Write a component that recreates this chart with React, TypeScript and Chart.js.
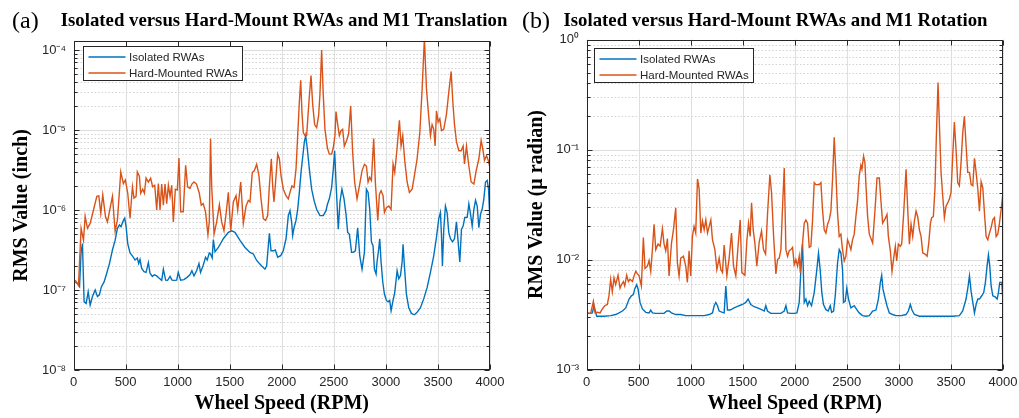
import React, { useEffect, useRef } from 'react';
import { Chart, registerables } from 'chart.js';

Chart.register(...registerables);

// ---------------- data ----------------
const seriesLabels = ['Isolated RWAs', 'Hard-Mounted RWAs'];
const titleA = 'Isolated versus Hard-Mount RWAs and M1 Translation';
const titleB = 'Isolated versus Hard-Mount RWAs and M1 Rotation';
const panelLetters = ['(a)', '(b)'];
const xAxisTitle = 'Wheel Speed (RPM)';
const yAxisTitleA = 'RMS Value (inch)';
const yAxisTitleB = 'RMS Value (\u03bc radian)';

const xTicks = [0, 500, 1000, 1500, 2000, 2500, 3000, 3500, 4000];
const yTicksA = [1e-8, 1e-7, 1e-6, 1e-5, 1e-4];
const yTicksB = [1e-3, 1e-2, 1e-1, 1];

// Panel (a) – Isolated RWAs
const isoA_rpm = [16, 38, 58, 73, 86, 102, 121, 141, 160, 182, 208, 230, 249, 268, 294, 319, 345, 374, 400, 422, 441, 457, 473, 492, 505, 521, 543, 569, 591, 613, 626, 639, 655, 677, 697, 719, 735, 757, 776, 799, 821, 847, 863, 885, 904, 927, 946, 968, 991, 1006, 1029, 1061, 1093, 1118, 1137, 1157, 1182, 1205, 1220, 1246, 1268, 1284, 1304, 1316, 1332, 1343, 1359, 1391, 1439, 1487, 1519, 1551, 1599, 1647, 1695, 1727, 1759, 1807, 1839, 1855, 1881, 1897, 1919, 1938, 1961, 1990, 2015, 2041, 2063, 2079, 2095, 2105, 2118, 2137, 2153, 2169, 2185, 2201, 2217, 2230, 2246, 2265, 2287, 2310, 2335, 2367, 2399, 2425, 2438, 2457, 2479, 2495, 2508, 2521, 2543, 2559, 2578, 2598, 2617, 2633, 2649, 2671, 2685, 2707, 2729, 2749, 2771, 2794, 2813, 2829, 2845, 2861, 2877, 2890, 2906, 2915, 2931, 2941, 2954, 2970, 2986, 3005, 3021, 3037, 3050, 3066, 3085, 3108, 3124, 3140, 3156, 3165, 3178, 3197, 3220, 3245, 3274, 3300, 3332, 3364, 3396, 3428, 3460, 3486, 3508, 3524, 3534, 3543, 3556, 3572, 3588, 3604, 3620, 3640, 3659, 3678, 3694, 3710, 3726, 3742, 3758, 3781, 3797, 3813, 3829, 3845, 3861, 3877, 3893, 3909, 3925, 3941, 3957, 3973, 3986, 4000];
const isoA_val = [1.26e-7, 1.2e-7, 1.1e-7, 3.0e-7, 3.8e-7, 7.1e-8, 6.8e-8, 9.5e-8, 6.5e-8, 8.3e-8, 1.0e-7, 8.3e-8, 8.7e-8, 1.1e-7, 1.26e-7, 1.62e-7, 2.14e-7, 3.16e-7, 4.2e-7, 5.9e-7, 6.5e-7, 6.2e-7, 7.1e-7, 7.9e-7, 6.2e-7, 3.8e-7, 2.9e-7, 2.63e-7, 2.37e-7, 2.51e-7, 2.14e-7, 2.4e-7, 1.86e-7, 1.7e-7, 1.66e-7, 2.2e-7, 1.62e-7, 1.48e-7, 1.55e-7, 1.5e-7, 1.41e-7, 1.32e-7, 1.82e-7, 1.33e-7, 1.32e-7, 1.48e-7, 1.33e-7, 1.32e-7, 1.33e-7, 1.66e-7, 1.33e-7, 1.35e-7, 1.45e-7, 1.55e-7, 1.74e-7, 1.5e-7, 1.74e-7, 2.14e-7, 1.66e-7, 2.04e-7, 2.57e-7, 2.37e-7, 2.9e-7, 2.82e-7, 2.51e-7, 4.27e-7, 3.0e-7, 3.4e-7, 4.37e-7, 5.25e-7, 5.5e-7, 5.25e-7, 4.17e-7, 3.4e-7, 2.95e-7, 2.82e-7, 2.34e-7, 2.0e-7, 1.82e-7, 2.0e-7, 5.1e-7, 3.09e-7, 3.09e-7, 3.16e-7, 2.57e-7, 2.69e-7, 3.09e-7, 4.37e-7, 8.5e-7, 9.8e-7, 7.1e-7, 4.79e-7, 6.0e-7, 7.4e-7, 1.02e-6, 1.66e-6, 2.95e-6, 4.57e-6, 7.1e-6, 8.5e-6, 5.75e-6, 3.24e-6, 1.82e-6, 1.32e-6, 1.02e-6, 8.5e-7, 8.5e-7, 9.8e-7, 1.17e-6, 1.38e-6, 1.91e-6, 3.24e-6, 5.5e-6, 2.24e-6, 5.75e-7, 1.26e-6, 1.82e-6, 1.38e-6, 8.9e-7, 5.25e-7, 5.0e-7, 2.95e-7, 2.95e-7, 3.09e-7, 6.0e-7, 2.69e-7, 1.82e-7, 2.95e-7, 1.82e-6, 1.66e-6, 1.02e-6, 4.0e-7, 3.55e-7, 1.82e-7, 1.58e-7, 2.24e-7, 3.24e-7, 4.37e-7, 2.24e-7, 1.26e-7, 8.9e-8, 7.4e-8, 7.1e-8, 7.4e-8, 5.5e-8, 7.1e-8, 9.3e-8, 1.74e-7, 1.38e-7, 1.51e-7, 2.24e-7, 3.72e-7, 2.0e-7, 8.9e-8, 6.0e-8, 5.1e-8, 4.9e-8, 5.25e-8, 6.0e-8, 7.8e-8, 1.07e-7, 1.66e-7, 2.69e-7, 4.57e-7, 7.8e-7, 9.3e-7, 4.79e-7, 2.0e-7, 5.75e-7, 1.12e-6, 9.3e-7, 5.25e-7, 4.37e-7, 4.0e-7, 4.37e-7, 7.1e-7, 4.0e-7, 2.24e-7, 5.75e-7, 6.3e-7, 8.1e-7, 8.1e-7, 1.19e-6, 8.9e-7, 6.3e-7, 1.02e-6, 1.32e-6, 1.12e-6, 6.0e-7, 8.9e-7, 1.02e-6, 1.38e-6, 2.24e-6, 2.34e-6, 1.82e-6, 6.7e-7];

// Panel (a) – Hard-Mounted RWAs
const hardA_rpm = [16, 48, 73, 96, 112, 134, 160, 192, 224, 243, 262, 281, 307, 326, 351, 374, 400, 422, 454, 479, 498, 521, 543, 566, 581, 601, 613, 633, 645, 665, 681, 697, 719, 741, 760, 780, 799, 815, 831, 847, 863, 879, 895, 911, 927, 943, 959, 978, 997, 1013, 1029, 1054, 1077, 1096, 1118, 1137, 1157, 1182, 1208, 1227, 1246, 1268, 1291, 1304, 1316, 1327, 1350, 1375, 1401, 1423, 1445, 1465, 1487, 1510, 1535, 1561, 1577, 1606, 1631, 1657, 1679, 1695, 1717, 1736, 1759, 1781, 1801, 1823, 1845, 1865, 1881, 1900, 1913, 1925, 1938, 1961, 1977, 1993, 2015, 2041, 2063, 2079, 2098, 2118, 2137, 2153, 2169, 2182, 2194, 2207, 2223, 2239, 2262, 2281, 2297, 2316, 2335, 2354, 2367, 2383, 2399, 2415, 2438, 2457, 2479, 2495, 2511, 2521, 2534, 2553, 2569, 2585, 2601, 2623, 2642, 2662, 2681, 2700, 2723, 2749, 2771, 2794, 2813, 2829, 2845, 2861, 2883, 2899, 2922, 2938, 2954, 2973, 2986, 3005, 3028, 3050, 3069, 3085, 3108, 3130, 3146, 3162, 3181, 3204, 3226, 3252, 3274, 3300, 3326, 3348, 3370, 3390, 3412, 3428, 3444, 3460, 3473, 3486, 3502, 3518, 3534, 3556, 3582, 3604, 3627, 3643, 3659, 3678, 3701, 3723, 3742, 3755, 3774, 3797, 3819, 3845, 3867, 3893, 3915, 3931, 3947, 3967, 3983, 4000];
const hardA_val = [1.33e-7, 1.15e-7, 5.9e-7, 4.2e-7, 8.3e-7, 5.9e-7, 6.8e-7, 1.0e-6, 1.48e-6, 1.5e-6, 9.1e-7, 1.55e-6, 8.3e-7, 7.1e-7, 1.05e-6, 1.48e-6, 5.4e-7, 7.5e-7, 3.0e-6, 2.14e-6, 2.37e-6, 1.62e-6, 7.9e-7, 1.95e-6, 1.41e-6, 1.48e-6, 3.0e-6, 2.63e-6, 1.62e-6, 1.82e-6, 1.62e-6, 2.51e-6, 2.24e-6, 2.51e-6, 1.95e-6, 2.04e-6, 1.0e-6, 2.14e-6, 1.0e-6, 2.11e-6, 1.15e-6, 2.11e-6, 1.2e-6, 2.04e-6, 1.48e-6, 2.04e-6, 7.1e-7, 1.82e-6, 1.78e-6, 4.47e-6, 9.5e-7, 9.5e-7, 3.63e-6, 1.95e-6, 1.86e-6, 2.11e-6, 2.24e-6, 2.11e-6, 1.62e-6, 1.15e-6, 1.2e-6, 9.5e-7, 4.9e-7, 7.1e-7, 7.8e-6, 2.0e-6, 5.0e-7, 7.1e-7, 1.17e-6, 7.1e-7, 5.5e-7, 8.9e-7, 1.66e-6, 5.5e-7, 1.26e-6, 1.51e-6, 1.0e-6, 2.24e-6, 6.8e-7, 1.12e-6, 1.32e-6, 1.26e-6, 2.95e-6, 3.09e-6, 3.72e-6, 2.69e-6, 1.38e-6, 7.8e-7, 7.4e-7, 8.5e-7, 2.0e-6, 4.37e-6, 2.0e-6, 1.26e-6, 2.0e-6, 5.0e-6, 4.37e-6, 2.69e-6, 1.82e-6, 1.51e-6, 1.38e-6, 1.66e-6, 2.0e-6, 1.91e-6, 3.24e-6, 8.5e-6, 2.24e-5, 4.17e-5, 1.66e-5, 9.3e-6, 8.5e-6, 8.5e-6, 2.34e-5, 4.79e-5, 2.09e-5, 1.17e-5, 1.07e-5, 1.51e-5, 2.82e-5, 1.0e-4, 2.69e-5, 1.02e-5, 6.0e-6, 5.0e-6, 5.0e-6, 6.0e-6, 8.5e-6, 1.7e-5, 1.26e-5, 8.5e-6, 9.8e-6, 1.02e-5, 6.3e-6, 7.4e-6, 8.9e-6, 2.0e-5, 5.25e-6, 2.24e-6, 1.38e-6, 2.11e-6, 3.09e-6, 3.72e-6, 3.55e-6, 2.24e-6, 2.57e-6, 2.34e-6, 7.8e-6, 2.24e-6, 7.4e-7, 1.58e-6, 1.74e-6, 1.51e-6, 9.3e-7, 1.07e-6, 1.12e-6, 1.02e-6, 3.76e-6, 2.95e-6, 6.0e-6, 1.32e-5, 6.3e-6, 8.5e-6, 4.17e-6, 2.24e-6, 1.66e-6, 1.82e-6, 2.69e-6, 4.37e-6, 9.3e-6, 3.24e-5, 1.4e-4, 3.24e-5, 1.45e-5, 8.5e-6, 1.17e-5, 1.02e-5, 6.3e-6, 1.74e-5, 1.26e-5, 1.38e-5, 9.8e-6, 1.02e-5, 1.58e-5, 2.95e-5, 5.4e-5, 2.24e-5, 1.17e-5, 7.1e-6, 5.5e-6, 5.5e-6, 6.3e-6, 3.76e-6, 6.3e-6, 3.55e-6, 2.24e-6, 2.11e-6, 3.09e-6, 4.37e-6, 7.4e-6, 5.75e-6, 4.17e-6, 4.79e-6, 4.17e-6, 3.39e-6];

// Panel (b) – Isolated RWAs
const isoB_rpm = [8, 34, 56, 72, 98, 168, 232, 280, 313, 345, 377, 409, 431, 450, 463, 482, 495, 514, 537, 569, 601, 617, 633, 665, 697, 745, 771, 793, 816, 857, 905, 953, 1001, 1066, 1130, 1178, 1210, 1226, 1242, 1258, 1274, 1306, 1322, 1338, 1354, 1380, 1418, 1466, 1498, 1530, 1552, 1578, 1610, 1642, 1681, 1707, 1722, 1738, 1770, 1819, 1867, 1899, 1915, 1931, 1963, 1995, 2021, 2043, 2059, 2075, 2091, 2107, 2123, 2139, 2161, 2187, 2212, 2228, 2244, 2260, 2276, 2299, 2321, 2341, 2354, 2373, 2389, 2411, 2427, 2443, 2459, 2468, 2484, 2500, 2516, 2539, 2571, 2596, 2619, 2651, 2683, 2716, 2748, 2780, 2803, 2822, 2835, 2847, 2867, 2886, 2908, 2940, 2972, 3021, 3069, 3091, 3110, 3126, 3149, 3197, 3261, 3325, 3389, 3453, 3517, 3581, 3613, 3645, 3662, 3678, 3694, 3710, 3726, 3742, 3758, 3774, 3796, 3815, 3831, 3847, 3860, 3873, 3886, 3902, 3925, 3944, 3956, 3969, 3989, 4000];
const isoB_val = [3.24e-3, 3.24e-3, 3.27e-3, 3.8e-3, 3.05e-3, 3.05e-3, 3.09e-3, 3.16e-3, 3.27e-3, 3.4e-3, 3.63e-3, 4.37e-3, 4.68e-3, 4.79e-3, 5.4e-3, 5.9e-3, 5.4e-3, 4.07e-3, 3.55e-3, 3.31e-3, 3.27e-3, 3.47e-3, 3.27e-3, 3.24e-3, 3.24e-3, 3.24e-3, 3.4e-3, 3.4e-3, 3.27e-3, 3.16e-3, 3.16e-3, 3.09e-3, 3.09e-3, 3.09e-3, 3.09e-3, 3.16e-3, 3.27e-3, 3.8e-3, 4.07e-3, 3.8e-3, 3.4e-3, 3.31e-3, 3.27e-3, 5.75e-3, 3.47e-3, 3.47e-3, 3.63e-3, 3.8e-3, 3.9e-3, 4.07e-3, 4.37e-3, 3.9e-3, 3.72e-3, 3.63e-3, 3.5e-3, 3.4e-3, 3.8e-3, 3.4e-3, 3.24e-3, 3.24e-3, 3.24e-3, 3.4e-3, 3.8e-3, 3.27e-3, 3.24e-3, 3.24e-3, 3.27e-3, 4.07e-3, 8.1e-3, 1.38e-2, 4.07e-3, 4.37e-3, 3.8e-3, 4.17e-3, 3.8e-3, 5.0e-3, 8.1e-3, 1.14e-2, 8.1e-3, 5.0e-3, 3.9e-3, 3.5e-3, 3.4e-3, 3.8e-3, 3.31e-3, 3.4e-3, 4.68e-3, 9.3e-3, 1.23e-2, 1.15e-2, 8.1e-3, 4.07e-3, 4.17e-3, 5.5e-3, 4.37e-3, 3.63e-3, 3.8e-3, 3.5e-3, 3.27e-3, 3.09e-3, 3.05e-3, 3.09e-3, 3.4e-3, 3.47e-3, 4.37e-3, 6.2e-3, 7.2e-3, 5.4e-3, 4.47e-3, 3.8e-3, 3.27e-3, 3.16e-3, 3.09e-3, 3.09e-3, 3.16e-3, 3.4e-3, 3.9e-3, 3.47e-3, 3.16e-3, 3.05e-3, 3.05e-3, 3.05e-3, 3.05e-3, 3.05e-3, 3.05e-3, 3.09e-3, 3.4e-3, 4.37e-3, 5.5e-3, 7.1e-3, 5.1e-3, 4.07e-3, 3.27e-3, 3.9e-3, 4.37e-3, 4.37e-3, 4.68e-3, 5.0e-3, 6.2e-3, 8.7e-3, 1.1e-2, 8.7e-3, 5.75e-3, 4.68e-3, 4.57e-3, 4.37e-3, 5.0e-3, 6.2e-3, 6.2e-3, 4.07e-3];

// Panel (b) – Hard-Mounted RWAs
const hardB_rpm = [8, 40, 66, 82, 104, 130, 152, 175, 200, 216, 232, 248, 264, 280, 303, 322, 335, 354, 367, 386, 402, 418, 441, 457, 473, 489, 505, 527, 546, 562, 585, 601, 617, 633, 649, 665, 687, 707, 729, 745, 761, 777, 793, 816, 835, 857, 873, 889, 905, 931, 953, 969, 985, 1001, 1017, 1033, 1049, 1066, 1082, 1098, 1114, 1130, 1146, 1162, 1178, 1194, 1210, 1233, 1252, 1274, 1290, 1306, 1322, 1348, 1370, 1393, 1412, 1434, 1457, 1476, 1492, 1521, 1540, 1556, 1572, 1585, 1601, 1617, 1636, 1659, 1681, 1700, 1720, 1739, 1761, 1777, 1797, 1819, 1835, 1851, 1867, 1883, 1899, 1915, 1931, 1947, 1963, 1979, 1995, 2011, 2027, 2043, 2053, 2065, 2075, 2091, 2107, 2123, 2139, 2155, 2171, 2187, 2203, 2219, 2235, 2251, 2267, 2283, 2299, 2315, 2331, 2347, 2363, 2379, 2395, 2411, 2427, 2443, 2459, 2475, 2491, 2507, 2523, 2539, 2555, 2571, 2587, 2603, 2619, 2635, 2645, 2661, 2674, 2684, 2700, 2716, 2748, 2771, 2790, 2812, 2828, 2844, 2867, 2886, 2899, 2918, 2934, 2950, 2966, 2979, 2995, 3014, 3027, 3046, 3069, 3085, 3101, 3117, 3133, 3149, 3165, 3181, 3197, 3213, 3229, 3251, 3271, 3287, 3303, 3315, 3331, 3347, 3360, 3376, 3392, 3405, 3421, 3437, 3453, 3469, 3485, 3501, 3517, 3533, 3549, 3565, 3581, 3597, 3613, 3629, 3646, 3661, 3678, 3694, 3710, 3726, 3742, 3758, 3774, 3790, 3806, 3822, 3838, 3854, 3870, 3886, 3902, 3918, 3934, 3950, 3966, 3982, 4000];
const hardB_val = [3.27e-3, 3.24e-3, 4.17e-3, 3.27e-3, 3.31e-3, 3.27e-3, 3.55e-3, 3.8e-3, 3.9e-3, 4.68e-3, 6.6e-3, 5.1e-3, 6.8e-3, 5.9e-3, 7.2e-3, 5.5e-3, 5.9e-3, 6.3e-3, 5.75e-3, 7.2e-3, 6.3e-3, 6.6e-3, 6.3e-3, 7.1e-3, 7.8e-3, 7.4e-3, 7.1e-3, 5.75e-3, 1.58e-2, 8.3e-3, 8.7e-3, 9.8e-3, 7.8e-3, 1.23e-2, 2.09e-2, 1.23e-2, 1.38e-2, 1.32e-2, 1.91e-2, 1.38e-2, 1.2e-2, 1.55e-2, 7.1e-3, 1.41e-2, 1.86e-2, 2.95e-2, 9.3e-3, 7.1e-3, 1.03e-2, 1.07e-2, 8.7e-3, 6.2e-3, 1.2e-2, 7.1e-3, 1.62e-2, 2.0e-2, 1.74e-2, 5.4e-2, 4.37e-2, 1.74e-2, 2.24e-2, 1.86e-2, 2.29e-2, 1.74e-2, 2.0e-2, 2.29e-2, 1.51e-2, 1.23e-2, 8.1e-3, 1.03e-2, 8.1e-3, 7.6e-3, 1.35e-2, 7.1e-3, 1.03e-2, 1.74e-2, 8.7e-3, 7.1e-3, 1.38e-2, 2.29e-2, 7.6e-3, 7.2e-3, 1.48e-2, 2.14e-2, 1.62e-2, 3.27e-2, 1.86e-2, 1.41e-2, 8.7e-3, 1.45e-2, 1.82e-2, 1.23e-2, 1.12e-2, 2.63e-2, 5.9e-2, 4.07e-2, 1.62e-2, 7.4e-3, 1.0e-2, 1.03e-2, 1.23e-2, 3.05e-2, 6.8e-2, 1.23e-2, 1.07e-2, 1.2e-2, 1.23e-2, 1.29e-2, 9.0e-3, 1.0e-2, 8.7e-3, 1.07e-2, 7.6e-3, 1.15e-2, 1.41e-2, 2.14e-2, 2.29e-2, 2.14e-2, 1.29e-2, 1.32e-2, 2.29e-2, 5.0e-2, 4.79e-2, 4.79e-2, 4.79e-2, 5.0e-2, 2.82e-2, 1.86e-2, 1.74e-2, 2.09e-2, 2.29e-2, 2.75e-2, 5.4e-2, 1.29e-1, 6.2e-2, 2.63e-2, 1.62e-2, 1.7e-2, 1.23e-2, 9.7e-3, 1.07e-2, 1.51e-2, 1.38e-2, 1.23e-2, 1.51e-2, 1.7e-2, 2.45e-2, 3.39e-2, 5.75e-2, 7.2e-2, 6.6e-2, 8.7e-2, 7.6e-2, 4.68e-2, 2.45e-2, 1.7e-2, 1.41e-2, 2.85e-2, 5.5e-2, 5.5e-2, 3.39e-2, 2.14e-2, 2.34e-2, 2.57e-2, 1.62e-2, 1.2e-2, 7.8e-3, 1.03e-2, 1.32e-2, 9.7e-3, 1.38e-2, 1.32e-2, 1.38e-2, 2.63e-2, 6.6e-2, 2.85e-2, 1.38e-2, 2.09e-2, 1.62e-2, 2.24e-2, 2.75e-2, 2.45e-2, 1.86e-2, 1.62e-2, 1.15e-2, 1.12e-2, 1.07e-2, 1.41e-2, 2.14e-2, 2.4e-2, 2.45e-2, 4.47e-2, 1.32e-1, 4.07e-1, 1.41e-1, 6.2e-2, 3.8e-2, 2.4e-2, 3.05e-2, 3.27e-2, 3.55e-2, 4.07e-2, 8.7e-2, 1.78e-1, 1.0e-1, 5.0e-2, 4.68e-2, 7.6e-2, 1.41e-1, 2.0e-1, 1.07e-1, 6.2e-2, 6.2e-2, 4.79e-2, 4.68e-2, 8.3e-2, 6.2e-2, 4.37e-2, 2.75e-2, 5.1e-2, 4.47e-2, 2.63e-2, 1.62e-2, 1.51e-2, 1.74e-2, 1.95e-2, 2.29e-2, 2.4e-2, 1.62e-2, 1.7e-2, 2.14e-2, 2.85e-2, 4.07e-2];

// ---------------- styling ----------------
const BLUE = '#0072BD';
const ORANGE = '#D95319';
const AXIS_COLOR = '#262626';
const TICK_FONT = "'Liberation Sans Narrow', 'Liberation Sans', Arial, sans-serif";
const SERIF = "'Liberation Serif', 'Times New Roman', serif";
const LINE_W = 1.4;

const SUP: Record<string, string> = {
  '-': '\u207b', '0': '\u2070', '1': '\u00b9', '2': '\u00b2', '3': '\u00b3',
  '4': '\u2074', '5': '\u2075', '6': '\u2076', '7': '\u2077', '8': '\u2078', '9': '\u2079',
};
function decadeLabel(v: number): string {
  const e = Math.round(Math.log10(v));
  return '10' + String(e).split('').map((c) => SUP[c]).join('');
}

function zip(xs: number[], ys: number[]) {
  return xs.map((x, i) => ({ x, y: ys[i] }));
}

const matlabPlugin = {
  id: 'matlabFrame',
  beforeDatasetsDraw(chart: any) {
    const { ctx, chartArea: a, scales } = chart;
    const x = scales.x;
    const y = scales.y;
    ctx.save();
    ctx.lineWidth = 1;
    const lo = Math.floor(Math.log10(y.min) + 1e-9);
    const hi = Math.ceil(Math.log10(y.max) - 1e-9);
    for (let d = lo; d <= hi; d++) {
      for (let m = 1; m <= 9; m++) {
        const v = m * Math.pow(10, d);
        if (v < y.min * 0.999 || v > y.max * 1.001) continue;
        const py = Math.round(y.getPixelForValue(v)) + 0.5;
        ctx.beginPath();
        if (m === 1) {
          ctx.setLineDash([]);
          ctx.strokeStyle = '#dedede';
        } else {
          ctx.setLineDash([1.5, 2]);
          ctx.strokeStyle = '#d2d2d2';
        }
        ctx.moveTo(a.left, py);
        ctx.lineTo(a.right, py);
        ctx.stroke();
      }
    }
    ctx.setLineDash([]);
    ctx.strokeStyle = '#dedede';
    for (const t of xTicks) {
      const px = Math.round(x.getPixelForValue(t)) + 0.5;
      ctx.beginPath();
      ctx.moveTo(px, a.top);
      ctx.lineTo(px, a.bottom);
      ctx.stroke();
    }
    ctx.restore();
  },
  afterDatasetsDraw(chart: any, _args: any, opts: any) {
    const { ctx, chartArea: a, scales } = chart;
    const x = scales.x;
    const y = scales.y;
    ctx.save();
    ctx.setLineDash([]);
    ctx.strokeStyle = AXIS_COLOR;
    ctx.lineWidth = 1;
    const L = Math.round(a.left) + 0.5;
    const R = Math.round(a.right) - 0.5;
    const T = Math.round(a.top) + 0.5;
    const B = Math.round(a.bottom) - 0.5;
    const lo = Math.floor(Math.log10(y.min) + 1e-9);
    const hi = Math.ceil(Math.log10(y.max) - 1e-9);
    ctx.beginPath();
    for (let d = lo; d <= hi; d++) {
      for (let m = 1; m <= 9; m++) {
        const v = m * Math.pow(10, d);
        if (v < y.min * 0.999 || v > y.max * 1.001) continue;
        const py = Math.round(y.getPixelForValue(v)) + 0.5;
        const len = m === 1 ? 5 : 3;
        ctx.moveTo(L, py); ctx.lineTo(L + len, py);
        ctx.moveTo(R, py); ctx.lineTo(R - len, py);
      }
    }
    for (const t of xTicks) {
      const px = Math.round(x.getPixelForValue(t)) + 0.5;
      ctx.moveTo(px, B); ctx.lineTo(px, B - 5);
      ctx.moveTo(px, T); ctx.lineTo(px, T + 5);
    }
    ctx.stroke();
    ctx.strokeRect(L, T, R - L, B - T);

    // legend
    const bx = Math.round(a.left + opts.legendDx) + 0.5;
    const by = Math.round(a.top + opts.legendDy) + 0.5;
    const bw = 159;
    const bh = 34;
    ctx.fillStyle = '#ffffff';
    ctx.fillRect(bx, by, bw, bh);
    ctx.strokeStyle = AXIS_COLOR;
    ctx.strokeRect(bx, by, bw, bh);
    const rows = [
      { label: seriesLabels[0], color: BLUE },
      { label: seriesLabels[1], color: ORANGE },
    ];
    ctx.font = "11.5px 'Liberation Sans', Arial, sans-serif";
    ctx.textBaseline = 'middle';
    ctx.textAlign = 'left';
    rows.forEach((r, i) => {
      const ry = by + 10.5 + i * 16;
      ctx.beginPath();
      ctx.strokeStyle = r.color;
      ctx.lineWidth = LINE_W;
      ctx.moveTo(bx + 5, ry);
      ctx.lineTo(bx + 42, ry);
      ctx.stroke();
      ctx.fillStyle = AXIS_COLOR;
      ctx.fillText(r.label, bx + 45.5, ry + 0.5);
    });

    // panel letter
    ctx.fillStyle = '#000000';
    ctx.font = `24px ${SERIF}`;
    ctx.textBaseline = 'alphabetic';
    ctx.textAlign = 'left';
    ctx.fillText(opts.letter, 12, 28);
    ctx.restore();
  },
};

function makeConfig(p: {
  iso: { x: number; y: number }[];
  hard: { x: number; y: number }[];
  title: string;
  yTitle: string;
  yMin: number;
  yMax: number;
  yTicks: number[];
  yAxisWidth: number;
  rightGap: number;
  xAxisHeight: number;
  chartTop: number;
  yTitlePad: number;
  letter: string;
  legendDx: number;
  legendDy: number;
}) {
  const titleFont = { family: SERIF, size: 18.8, weight: 'bold' as const, lineHeight: 1.2 };
  const titlePadTop = 9.7;
  const titlePadBottom = p.chartTop - titlePadTop - 18.8 * 1.2;
  return {
    type: 'line' as const,
    data: {
      datasets: [
        {
          label: seriesLabels[1],
          data: p.hard,
          borderColor: ORANGE,
          backgroundColor: ORANGE,
          borderWidth: LINE_W,
          pointRadius: 0,
          tension: 0,
          order: 0,
        },
        {
          label: seriesLabels[0],
          data: p.iso,
          borderColor: BLUE,
          backgroundColor: BLUE,
          borderWidth: LINE_W,
          pointRadius: 0,
          tension: 0,
          order: 1,
        },
      ],
    },
    options: {
      animation: false,
      responsive: false,
      maintainAspectRatio: false,
      events: [],
      layout: { padding: 0 },
      plugins: {
        legend: { display: false },
        tooltip: { enabled: false },
        title: {
          display: true,
          text: p.title,
          color: '#000000',
          font: titleFont,
          padding: { top: titlePadTop, bottom: titlePadBottom },
        },
        matlabFrame: { letter: p.letter, legendDx: p.legendDx, legendDy: p.legendDy },
      },
      scales: {
        x: {
          type: 'linear',
          min: 0,
          max: 4000,
          afterBuildTicks: (s: any) => {
            s.ticks = xTicks.map((v) => ({ value: v }));
          },
          afterFit: (s: any) => {
            s.height = p.xAxisHeight;
          },
          grid: { display: false, drawTicks: false },
          border: { display: false },
          ticks: {
            autoSkip: false,
            maxRotation: 0,
            padding: 5,
            color: AXIS_COLOR,
            font: { family: TICK_FONT, size: 13 },
            callback: (v: any) => String(v),
          },
          title: {
            display: true,
            text: xAxisTitle,
            color: '#000000',
            font: { family: SERIF, size: 20, weight: 'bold', lineHeight: 1.2 },
            padding: { top: 0, bottom: 1.75 },
          },
        },
        y: {
          type: 'logarithmic',
          position: 'left',
          min: p.yMin,
          max: p.yMax,
          afterBuildTicks: (s: any) => {
            s.ticks = p.yTicks.map((v) => ({ value: v }));
          },
          afterFit: (s: any) => {
            s.width = p.yAxisWidth;
          },
          grid: { display: false, drawTicks: false },
          border: { display: false },
          ticks: {
            autoSkip: false,
            padding: 7.5,
            color: AXIS_COLOR,
            font: { family: TICK_FONT, size: 13 },
            callback: (v: any) => decadeLabel(Number(v)),
          },
          title: {
            display: true,
            text: p.yTitle,
            color: '#000000',
            font: { family: SERIF, size: 20, weight: 'bold', lineHeight: 1.2 },
            padding: { top: p.yTitlePad, bottom: 0 },
          },
        },
        // empty spacer on the right so the full-width title stays centred where the reference has it
        spacer: {
          type: 'linear',
          position: 'right',
          display: true,
          afterFit: (s: any) => {
            s.width = p.rightGap;
          },
          grid: { display: false, drawTicks: false },
          border: { display: false },
          ticks: { display: false },
          title: { display: false },
        },
      },
    },
    plugins: [matlabPlugin],
  };
}

export default function App() {
  const refA = useRef<HTMLCanvasElement | null>(null);
  const refB = useRef<HTMLCanvasElement | null>(null);

  useEffect(() => {
    if (!refA.current || !refB.current) return;
    const chartA = new Chart(
      refA.current,
      makeConfig({
        iso: zip(isoA_rpm, isoA_val),
        hard: zip(hardA_rpm, hardA_val),
        title: titleA,
        yTitle: yAxisTitleA,
        yMin: 1e-8,
        yMax: 1.296e-4,
        yTicks: yTicksA,
        yAxisWidth: 73.5,
        rightGap: 78,
        xAxisHeight: 48,
        chartTop: 41,
        yTitlePad: 10,
        letter: panelLetters[0],
        legendDx: 9.5,
        legendDy: 5,
      }) as any
    );
    const chartB = new Chart(
      refB.current,
      makeConfig({
        iso: zip(isoB_rpm, isoB_val),
        hard: zip(hardB_rpm, hardB_val),
        title: titleB,
        yTitle: yAxisTitleB,
        yMin: 1e-3,
        yMax: 1,
        yTicks: yTicksB,
        yAxisWidth: 76.5,
        rightGap: 38,
        xAxisHeight: 48.5,
        chartTop: 39.5,
        yTitlePad: 14.5,
        letter: panelLetters[1],
        legendDx: 7,
        legendDy: 8.5,
      }) as any
    );
    return () => {
      chartA.destroy();
      chartB.destroy();
    };
  }, []);

  return (
    <div
      style={{
        position: 'fixed',
        left: 0,
        top: 0,
        width: 1019,
        height: 418,
        overflow: 'hidden',
        background: '#ffffff',
      }}
    >
      <canvas
        ref={refA}
        width={568}
        height={418}
        style={{ position: 'absolute', left: 0, top: 0, width: 568, height: 418 }}
      />
      <canvas
        ref={refB}
        width={531}
        height={418}
        style={{ position: 'absolute', left: 510, top: 0, width: 531, height: 418 }}
      />
    </div>
  );
}
